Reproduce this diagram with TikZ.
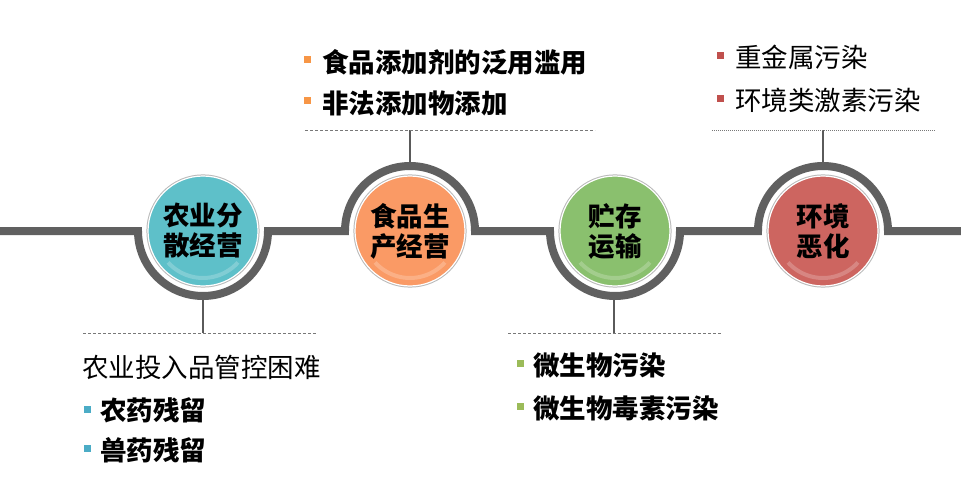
\documentclass[tikz,border=0pt]{standalone}
\usepackage{fontspec}
\setmainfont{Noto Sans CJK SC}
\definecolor{trackgray}{RGB}{96,96,96}
\definecolor{conngray}{RGB}{90,90,90}
\definecolor{dashgray}{RGB}{120,120,120}
\definecolor{cteal}{RGB}{94,192,201}
\definecolor{corange}{RGB}{250,154,101}
\definecolor{cgreen}{RGB}{138,192,110}
\definecolor{cred}{RGB}{205,101,96}
\definecolor{bteal}{RGB}{75,172,198}
\definecolor{borange}{RGB}{247,150,70}
\definecolor{bgreen}{RGB}{155,187,89}
\definecolor{bred}{RGB}{192,80,77}
\begin{document}
\begin{tikzpicture}[x=1pt,y=1pt,
  track/.style={line width=8pt, draw=trackgray},
  circ/.style={circle, minimum size=110pt, inner sep=0pt, align=center,
    draw=white, line width=1.2pt, preaction={draw=gray!55, line width=3.2pt},
    font=\bfseries\fontsize{26.5}{30}\selectfont},
  conn/.style={line width=1.4pt, draw=conngray},
  sepdash/.style={line width=0.8pt, draw=dashgray, dash pattern=on 3pt off 2pt},
  sepdot/.style={line width=0.8pt, draw=dashgray, dash pattern=on 1pt off 1pt},
  bul/.style={rectangle, minimum size=7pt, inner sep=0pt},
  txt/.style={anchor=west, inner sep=0pt, font=\fontsize{26.5}{30}\selectfont},
  btxt/.style={anchor=west, inner sep=0pt, font=\bfseries\fontsize{26.5}{30}\selectfont},
  gloss/.style={white, opacity=0.22, line width=4pt}
]
\useasboundingbox (0,0) rectangle (961,491);

% track
\draw[track] (0,260) -- (138,260) arc[start angle=180,end angle=360,radius=65]
  -- (345,260) arc[start angle=180,end angle=0,radius=65]
  -- (550,260) arc[start angle=180,end angle=360,radius=65]
  -- (758,260) arc[start angle=180,end angle=0,radius=65]
  -- (961,260);

% circles
\node[circ, fill=cteal] (n1) at (203,260) {农业分\\散经营};
\node[circ, fill=corange] (n2) at (410,260) {食品生\\产经营};
\node[circ, fill=cgreen] (n3) at (615,260) {贮存\\运输};
\node[circ, fill=cred] (n4) at (823,260) {环境\\恶化};
\foreach \n in {n1,n2,n3,n4}{
  \draw[gloss] (\n.center) ++(222:47) arc[start angle=222,end angle=318,radius=47];
}

% connector coordinates
\coordinate (a1) at (203,191);
\coordinate (d1) at (203,158);
\coordinate (d1l) at (83,158);
\coordinate (d1r) at (317,158);
\coordinate (a2) at (410,329);
\coordinate (d2) at (410,361);
\coordinate (d2l) at (305,361);
\coordinate (d2r) at (595,361);
\coordinate (a3) at (614,191);
\coordinate (d3) at (614,158);
\coordinate (d3l) at (508,158);
\coordinate (d3r) at (722,158);
\coordinate (a4) at (823,329);
\coordinate (d4) at (823,361);
\coordinate (d4l) at (712,361);
\coordinate (d4r) at (935,361);

\draw[conn] (a1) -- (d1);
\draw[conn] (a2) -- (d2);
\draw[conn] (a3) -- (d3);
\draw[conn] (a4) -- (d4);
\draw[sepdash] (d1l) -- (d1r);
\draw[sepdash] (d2l) -- (d2r);
\draw[sepdash] (d3l) -- (d3r);
\draw[sepdot] (d4l) -- (d4r);

% top of circle 2
\node[bul, fill=borange] (b21) at (307,431) {};
\node[btxt] (t21) at (322,429) {食品添加剂的泛用滥用};
\node[bul, fill=borange] (b22) at (307,390) {};
\node[btxt] (t22) at (322,388) {非法添加物添加};

% top of circle 4
\node[bul, fill=bred] (b41) at (720,435) {};
\node[txt] (t41) at (735,434) {重金属污染};
\node[bul, fill=bred] (b42) at (720,392) {};
\node[txt] (t42) at (735,391) {环境类激素污染};

% below circle 1
\node[txt] (t10) at (82,124) {农业投入品管控困难};
\node[bul, fill=bteal] (b11) at (87,82) {};
\node[btxt] (t11) at (100,81) {农药残留};
\node[bul, fill=bteal] (b12) at (87,43) {};
\node[btxt] (t12) at (100,41) {兽药残留};

% below circle 3
\node[bul, fill=bgreen] (b31) at (520,128) {};
\node[btxt] (t31) at (533,126) {微生物污染};
\node[bul, fill=bgreen] (b32) at (520,85) {};
\node[btxt] (t32) at (533,83) {微生物毒素污染};
\end{tikzpicture}
\end{document}
